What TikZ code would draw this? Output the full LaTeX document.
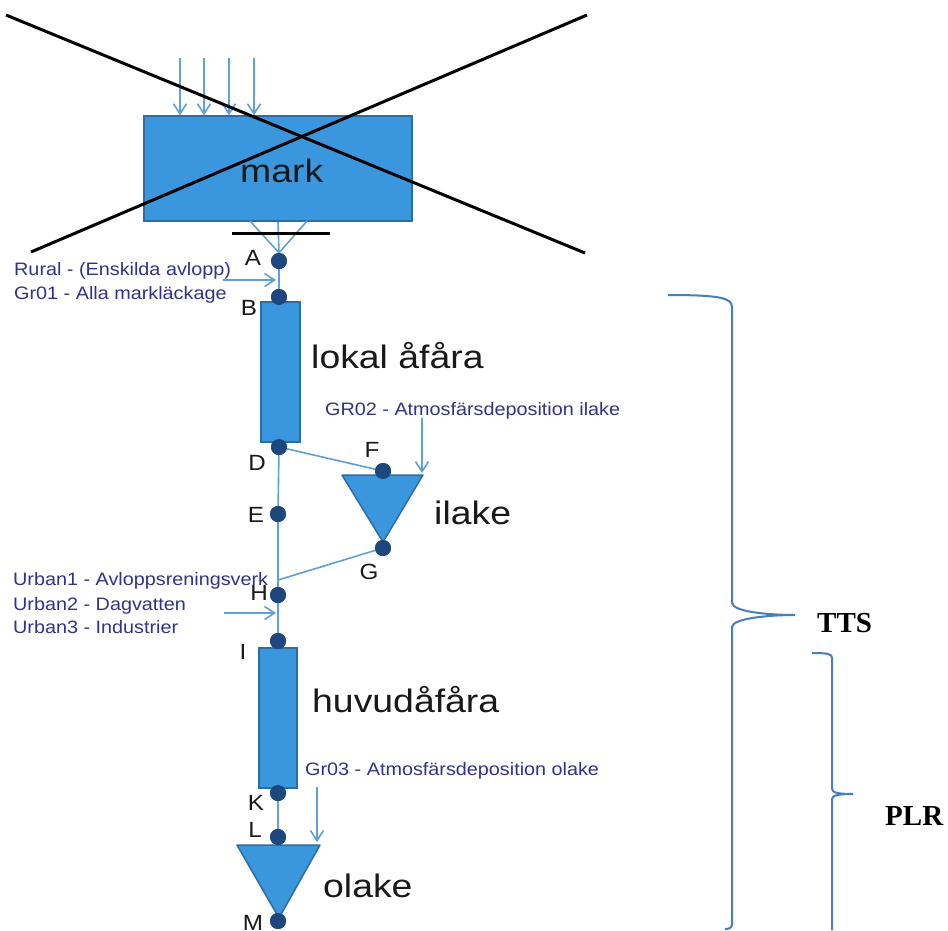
\documentclass[tikz,border=0pt]{standalone}
\usepackage{fontspec}
\setmainfont{Liberation Sans}
\newfontfamily\bigf[FakeStretch=1.15]{Liberation Sans}
\newfontfamily\smallf[FakeStretch=1.1]{Liberation Sans}
\newfontfamily\serf{Liberation Serif}
\usetikzlibrary{arrows.meta}
\definecolor{flowc}{RGB}{95,160,215}
\definecolor{boxc}{RGB}{58,150,221}
\definecolor{boxb}{RGB}{46,109,164}
\definecolor{dotc}{RGB}{30,72,125}
\definecolor{labc}{RGB}{50,50,140}
\definecolor{bracec}{RGB}{74,126,187}
\definecolor{txtc}{RGB}{25,25,25}
\tikzset{
  flow/.style={draw=flowc, line width=1.6pt},
  arr/.style={flow, -{Straight Barb[length=10pt,width=13pt]}},
  box/.style={rectangle, fill=boxc, draw=boxb, line width=1.5pt, inner sep=0pt},
  tri/.style={fill=boxc, draw=boxb, line width=1.5pt, line join=round},
  dot/.style={circle, fill=dotc, inner sep=0pt, minimum size=16pt},
  letter/.style={text=txtc, font=\smallf\fontsize{22}{25}\selectfont, inner sep=0pt},
  lab/.style={text=labc, font=\smallf\fontsize{18}{21}\selectfont, inner sep=0pt, anchor=base west},
  big/.style={text=txtc, font=\bigf\fontsize{32.5}{38}\selectfont, inner sep=0pt, anchor=base west},
  brace/.style={draw=bracec, line width=2pt},
  bl/.style={text=black, font=\serf\bfseries\fontsize{29}{34}\selectfont, inner sep=0pt, anchor=base west},
  cross/.style={draw=black, line width=3pt}
}
\begin{document}
\begin{tikzpicture}[x=1pt,y=-1pt]
\useasboundingbox (0,0) rectangle (948,930);
\fill[white] (0,0) rectangle (948,930);

% named points
\coordinate (t1) at (180,58);
\coordinate (t2) at (204,58);
\coordinate (t3) at (229,58);
\coordinate (t4) at (254,58);
\coordinate (m1) at (250,221);
\coordinate (m2) at (307,221);
\coordinate (bar1) at (232,233);
\coordinate (bar2) at (330,233);
\coordinate (r1) at (223,280);
\coordinate (r2) at (276,280);
\coordinate (u1) at (224,613);
\coordinate (u2) at (276,613);
\coordinate (hj) at (278,580);
\coordinate (g2a) at (422,418);
\coordinate (g2b) at (422,473);
\coordinate (g3a) at (317,787);
\coordinate (g3b) at (317,842);

% dots (positions)
\node[dot] (A) at (279,261) {};
\node[dot] (B) at (279,297) {};
\node[dot] (D) at (279,447) {};
\node[dot] (E) at (278,514) {};
\node[dot] (F) at (383,471) {};
\node[dot] (G) at (383,548) {};
\node[dot] (H) at (278,595) {};
\node[dot] (I) at (278,641) {};
\node[dot] (K) at (278,793) {};
\node[dot] (L) at (278,837) {};
\node[dot] (M) at (278,921) {};

% main flow line (behind boxes)
\draw[flow] (A.center) -- (B.center) -- (D.center) -- (E.center) -- (H.center) -- (I.center) -- (K.center) -- (L.center) -- (M.center);
\draw[flow] (D.center) -- (F.center);
\draw[flow] (G.center) -- (hj);

% mark box
\node[box, minimum width=268pt, minimum height=105pt] (mark) at (278,168.5) {};
\node[big] (marktxt) at (240,182) {mark};
\foreach \t in {t1,t2,t3,t4} \draw[arr] (\t) -- (\t |- mark.north);
\draw[flow] (m1) -- (A.north);
\draw[flow] (m2) -- (A.north);
\draw[flow] (mark.south) -- (A.north);
\draw[cross] (bar1) -- (bar2);

% reaches
\node[box, minimum width=39pt, minimum height=140pt] (lokal) at (280.5,372) {};
\node[box, minimum width=38pt, minimum height=140pt] (huvud) at (278,718) {};

% lakes
\draw[tri] (342,475) -- (423,475) -- (383,542) -- cycle;
\draw[tri] (237,845) -- (320,845) -- (279,918) -- cycle;

% redraw dots on top
\foreach \p in {(279,261),(279,297),(279,447),(278,514),(383,471),(383,548),(278,595),(278,641),(278,793),(278,837),(278,921)}
  \node[dot] at \p {};

% input arrows
\draw[arr] (r1) -- (r2);
\draw[arr] (u1) -- (u2);
\draw[arr] (g2a) -- (g2b);
\draw[arr] (g3a) -- (g3b);

% big X
\coordinate (x1) at (6,15);
\coordinate (x2) at (585,253);
\coordinate (x3) at (31,252);
\coordinate (x4) at (587,15);
\draw[cross] (x1) -- (x2);
\draw[cross] (x3) -- (x4);

% big labels
\node[big] (lokaltxt) at (311,368) {lokal åfåra};
\node[big] (ilaketxt) at (434,524) {ilake};
\node[big] (huvudtxt) at (312,712) {huvudåfåra};
\node[big] (olaketxt) at (323,897) {olake};

% letters
\node[letter] (lA) at (253,258) {A};
\node[letter] (lB) at (249,308) {B};
\node[letter] (lD) at (257,463) {D};
\node[letter] (lE) at (256,515) {E};
\node[letter] (lF) at (372,450) {F};
\node[letter] (lG) at (369,572) {G};
\node[letter] (lH) at (259,593) {H};
\node[letter] (lI) at (243,652) {I};
\node[letter] (lK) at (256,803) {K};
\node[letter] (lL) at (255,830) {L};
\node[letter] (lM) at (253,923) {M};

% small labels
\node[lab] (rural) at (14,275) {Rural - (Enskilda avlopp)};
\node[lab] (gr01) at (14,299) {Gr01 - Alla markläckage};
\node[lab] (urb1) at (13,585) {Urban1 - Avloppsreningsverk};
\node[lab] (urb2) at (13,610) {Urban2 - Dagvatten};
\node[lab] (urb3) at (13,633) {Urban3 - Industrier};
\node[lab] (gr02) at (325,415) {GR02 - Atmosfärsdeposition ilake};
\node[lab] (gr03) at (305,775) {Gr03 - Atmosfärsdeposition olake};

% braces
\draw[brace] (668,295) .. controls (720,295) and (732,298) .. (732,307) -- (732,603)
  .. controls (733,612) and (770,615) .. (795,615)
  .. controls (770,615) and (733,618) .. (732,627) -- (732,924)
  .. controls (732,928) and (729,929) .. (725,929);
\draw[brace] (812,653) .. controls (828,653) and (832,654) .. (832,658) -- (832,789)
  .. controls (832,793) and (840,794) .. (853,794)
  .. controls (840,794) and (832,795) .. (832,799) -- (832,930);
\node[bl] (tts) at (817,632) {TTS};
\node[bl] (plr) at (885,825) {PLR};
\end{tikzpicture}
\end{document}
